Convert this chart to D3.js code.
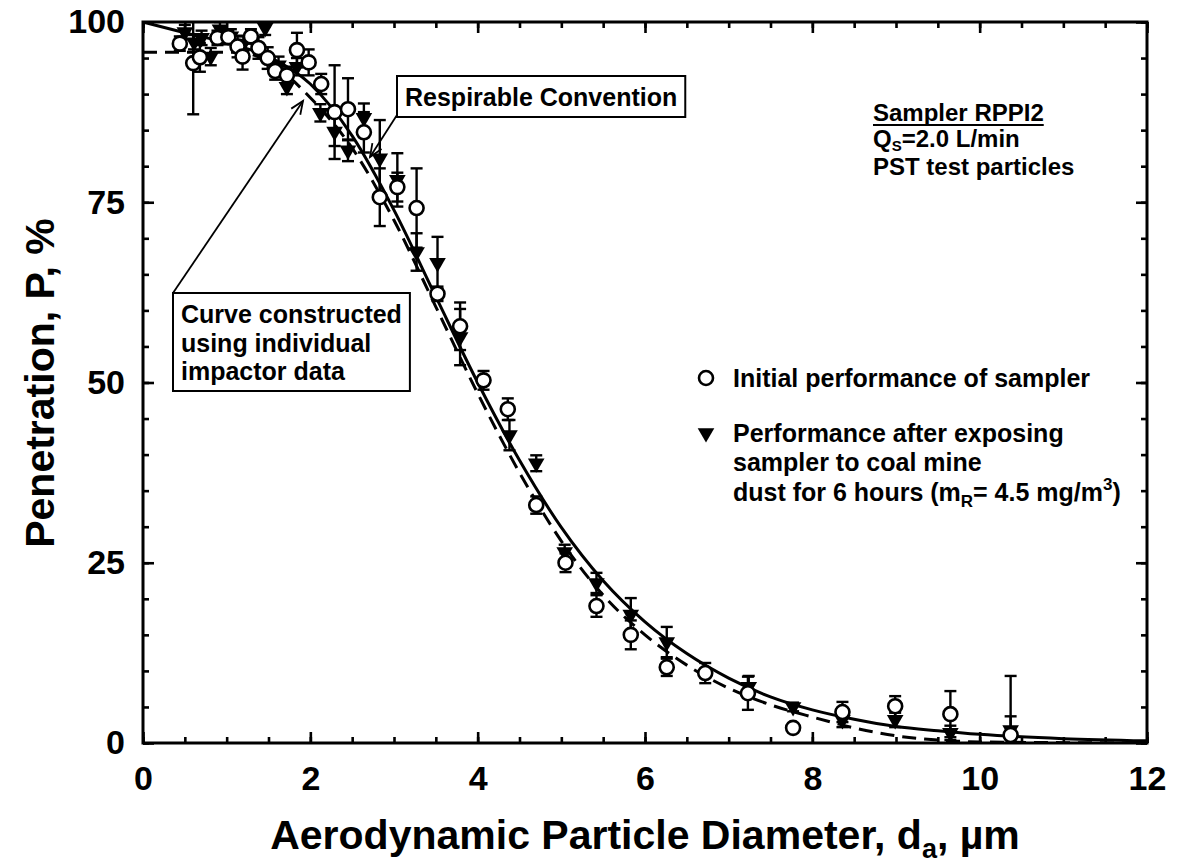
<!DOCTYPE html>
<html><head><meta charset="utf-8">
<script src="https://cdn.jsdelivr.net/npm/d3@7"></script>
<style>
body{margin:0;background:#fff;}
text{font-family:"Liberation Sans",Arial,sans-serif;font-weight:bold;fill:#000;}
</style></head>
<body><svg id="c" width="1177" height="865"></svg>
<script>
// ---- data ----
const xTicks = [0,2,4,6,8,10,12];
const yTicks = [0,25,50,75,100];
// Initial performance of sampler (open circles)
const initX = [0.44,0.60,0.68,0.89,1.02,1.13,1.19,1.29,1.38,1.49,1.58,1.72,1.84,1.98,2.13,2.29,2.45,2.64,2.83,3.04,3.27,3.52,3.79,4.07,4.36,4.70,5.05,5.42,5.83,6.26,6.72,7.23,7.77,8.36,8.99,9.65,10.37];
const initY = [97.0,94.3,95.1,97.8,97.9,96.6,95.2,98.0,96.4,95.0,93.2,92.6,96.1,94.4,91.4,87.5,87.9,84.7,75.7,77.1,74.2,62.3,57.8,50.3,46.3,33.0,25.0,19.0,15.0,10.5,9.7,6.9,2.1,4.3,5.1,4.0,1.1];
const initErr = [1.0,7.1,2.0,1.0,1.0,1.5,1.8,1.0,1.5,1.5,1.2,1.2,2.4,1.8,1.4,6.5,4.3,2.8,4.0,2.0,5.5,1.0,3.3,1.3,1.5,1.2,1.3,1.5,2.0,1.2,1.4,2.3,0,1.4,1.4,3.2,8.2];
// Performance after exposure (filled triangles)
const expX = [0.50,0.61,0.70,0.81,0.92,1.05,1.20,1.46,1.62,1.72,1.84,2.12,2.29,2.45,2.64,2.83,3.04,3.27,3.52,3.79,4.38,4.70,5.04,5.42,5.83,6.26,7.24,7.77,8.36,8.99,9.65,10.37];
const expY = [98.6,97.2,97.8,95.2,99.0,98.0,97.0,99.2,94.0,91.0,93.8,87.4,84.8,82.2,86.7,81.1,78.1,68.1,66.6,56.3,42.7,38.8,26.5,22.2,17.8,14.0,7.8,5.0,3.2,3.2,1.4,1.8];
const expErr = [1.0,1.0,1.0,1.2,1.0,1.0,1.0,1.0,1.2,1.0,1.2,1.2,2.0,1.5,2.0,5.3,3.7,2.6,3.6,3.9,2.1,1.1,1.0,1.4,2.3,2.1,1.5,0.6,1.0,1.0,1.0,1.9];
// Respirable convention (solid)
const convX = [0,0.5,1,1.5,2,2.5,3,3.5,4,4.5,5,5.5,6,6.5,7,7.5,8,8.5,9,9.5,10,11,12];
const convY = [100,98.5,97.1,95.2,91.4,84.2,73.9,61.9,50.0,39.2,29.9,22.5,16.8,12.4,9.0,6.4,4.6,3.3,2.3,1.7,1.2,0.6,0.3];
// Curve constructed using individual impactor data (dashed)
const curveX = [0,0.5,1,1.2,1.5,2,2.5,3,3.5,4,4.5,5,5.5,6,6.5,7,7.5,8,8.5,9,9.5,10,11,12];
const curveY = [95.8,95.8,95.8,95.7,94.5,89.5,82.5,72.5,60.5,48.5,37.5,28,20.5,15,10.8,7.6,5.3,3.6,2.1,1.0,0.4,0.15,0.05,0];

// ---- layout ----
const svg = d3.select("#c");
const L=143, R=1147, T=22, B=743;
const x = d3.scaleLinear().domain([0,12]).range([L,R]);
const y = d3.scaleLinear().domain([0,100]).range([B,T]);

svg.append("clipPath").attr("id","clip").append("rect")
  .attr("x",L).attr("y",T).attr("width",R-L).attr("height",B-T);

function styleAxis(g){ g.select(".domain").remove(); g.selectAll("line").attr("stroke","#000").attr("stroke-width",2.6); }
const minorX = d3.range(0,12.01,0.5), minorY = d3.range(0,100.1,5);
svg.append("g").attr("transform",`translate(0,${B})`).call(d3.axisBottom(x).tickValues(minorX).tickSize(-6).tickFormat("")).call(styleAxis);
svg.append("g").attr("transform",`translate(0,${T})`).call(d3.axisTop(x).tickValues(minorX).tickSize(-6).tickFormat("")).call(styleAxis);
svg.append("g").attr("transform",`translate(${L},0)`).call(d3.axisLeft(y).tickValues(minorY).tickSize(-6).tickFormat("")).call(styleAxis);
svg.append("g").attr("transform",`translate(${R},0)`).call(d3.axisRight(y).tickValues(minorY).tickSize(-6).tickFormat("")).call(styleAxis);

svg.append("g").attr("transform",`translate(0,${B})`).call(d3.axisBottom(x).tickValues(xTicks).tickSize(-11).tickPadding(23).tickFormat(d3.format("d"))).call(styleAxis);
svg.append("g").attr("transform",`translate(0,${T})`).call(d3.axisTop(x).tickValues(xTicks).tickSize(-11).tickFormat("")).call(styleAxis);
svg.append("g").attr("transform",`translate(${L},0)`).call(d3.axisLeft(y).tickValues(yTicks).tickSize(-11).tickPadding(18).tickFormat(d3.format("d"))).call(styleAxis);
svg.append("g").attr("transform",`translate(${R},0)`).call(d3.axisRight(y).tickValues(yTicks).tickSize(-11).tickFormat("")).call(styleAxis);
svg.selectAll(".tick text").attr("font-family","Liberation Sans, Arial, sans-serif").attr("font-weight","bold").attr("font-size",34).attr("fill","#000");

svg.append("rect").attr("x",L).attr("y",T).attr("width",R-L).attr("height",B-T)
  .attr("fill","none").attr("stroke","#000").attr("stroke-width",3);

const plot = svg.append("g").attr("clip-path","url(#clip)");
const line = d3.line().x(d=>x(d[0])).y(d=>y(d[1])).curve(d3.curveMonotoneX);

plot.append("path").datum(curveX.map((v,i)=>[v,curveY[i]])).attr("d",line)
  .attr("fill","none").attr("stroke","#000").attr("stroke-width",3).attr("stroke-dasharray","14,8");
plot.append("path").datum(convX.map((v,i)=>[v,convY[i]])).attr("d",line)
  .attr("fill","none").attr("stroke","#000").attr("stroke-width",3);

function errBars(xs,ys,es){
  const g = plot.append("g").attr("stroke","#000").attr("stroke-width",2.4);
  xs.forEach((v,i)=>{
    if(!es[i]) return;
    const cx=x(v), y1=y(ys[i]-es[i]), y2=y(ys[i]+es[i]);
    g.append("line").attr("x1",cx).attr("x2",cx).attr("y1",y1).attr("y2",y2);
    g.append("line").attr("x1",cx-6).attr("x2",cx+6).attr("y1",y1).attr("y2",y1);
    g.append("line").attr("x1",cx-6).attr("x2",cx+6).attr("y1",y2).attr("y2",y2);
  });
}
errBars(expX,expY,expErr);
errBars(initX,initY,initErr);

const tri = d3.symbol().type(d3.symbolTriangle).size(120);
plot.append("g").selectAll("path").data(expX.map((v,i)=>[v,expY[i]])).join("path")
  .attr("d",tri).attr("transform",d=>`translate(${x(d[0])},${y(d[1])}) rotate(180)`).attr("fill","#000");
plot.append("g").selectAll("circle").data(initX.map((v,i)=>[v,initY[i]])).join("circle")
  .attr("cx",d=>x(d[0])).attr("cy",d=>y(d[1])).attr("r",7)
  .attr("fill","#fff").attr("stroke","#000").attr("stroke-width",2.6);

// axis titles
svg.append("text").attr("x",645).attr("y",849).attr("text-anchor","middle").attr("font-size",41)
  .call(t=>{t.append("tspan").text("Aerodynamic Particle Diameter, d");
            t.append("tspan").attr("font-size",27).attr("dy",9).text("a");
            t.append("tspan").attr("dy",-9).text(", \u00B5m");});
svg.append("text").attr("transform","translate(54,383) rotate(-90)").attr("text-anchor","middle").attr("font-size",41)
  .text("Penetration, P, %");

const fs = 25;
const s1 = svg.append("text").attr("x",873).attr("y",121).attr("font-size",24).text("Sampler RPPI2");
const w1 = s1.node().getComputedTextLength();
svg.append("line").attr("x1",873).attr("x2",873+w1).attr("y1",125).attr("y2",125).attr("stroke","#000").attr("stroke-width",2);
svg.append("text").attr("x",873).attr("y",147).attr("font-size",24)
  .call(t=>{t.append("tspan").text("Q");
            t.append("tspan").attr("font-size",15).attr("dy",4).text("S");
            t.append("tspan").attr("dy",-4).text("=2.0 L/min");});
svg.append("text").attr("x",873).attr("y",175).attr("font-size",24).text("PST test particles");

// legend
svg.append("circle").attr("cx",706).attr("cy",378).attr("r",7).attr("fill","#fff").attr("stroke","#000").attr("stroke-width",2.6);
svg.append("text").attr("x",733).attr("y",387).attr("font-size",fs).text("Initial performance of sampler");
svg.append("path").attr("d",tri).attr("transform","translate(706,433) rotate(180)").attr("fill","#000");
svg.append("text").attr("x",733).attr("y",442).attr("font-size",fs).text("Performance after exposing");
svg.append("text").attr("x",733).attr("y",471).attr("font-size",fs).text("sampler to coal mine");
svg.append("text").attr("x",733).attr("y",501).attr("font-size",fs)
  .call(t=>{t.append("tspan").text("dust for 6 hours (m");
            t.append("tspan").attr("font-size",17).attr("dy",6).text("R");
            t.append("tspan").attr("dy",-6).text("= 4.5 mg/m");
            t.append("tspan").attr("font-size",17).attr("dy",-11).text("3");
            t.append("tspan").attr("dy",11).text(")");});

function box(xl, yt, lines, lh){
  const g = svg.append("g");
  const r = g.append("rect").attr("fill","#fff").attr("stroke","#000").attr("stroke-width",2);
  let maxW=0;
  lines.forEach((s,i)=>{
    const t = g.append("text").attr("x",xl+8).attr("y",yt+30+i*lh).attr("font-size",fs).text(s);
    maxW = Math.max(maxW,t.node().getComputedTextLength());
  });
  r.attr("x",xl).attr("y",yt).attr("width",maxW+16).attr("height",(lines.length-1)*lh+41);
}
function arrow(x1,y1,x2,y2){
  const g = svg.append("g").attr("stroke","#000").attr("stroke-width",1.8).attr("fill","none");
  g.append("line").attr("x1",x1).attr("y1",y1).attr("x2",x2).attr("y2",y2);
  const a = Math.atan2(y2-y1,x2-x1), h=14, s=0.4;
  g.append("path").attr("d",`M${x2-h*Math.cos(a-s)},${y2-h*Math.sin(a-s)} L${x2},${y2} L${x2-h*Math.cos(a+s)},${y2-h*Math.sin(a+s)}`);
}
arrow(397,115,370,157);
box(397,76,["Respirable Convention"],28);
arrow(173,293,303,101);
box(173,293,["Curve constructed","using individual","impactor data"],28.5);
</script></body></html>
